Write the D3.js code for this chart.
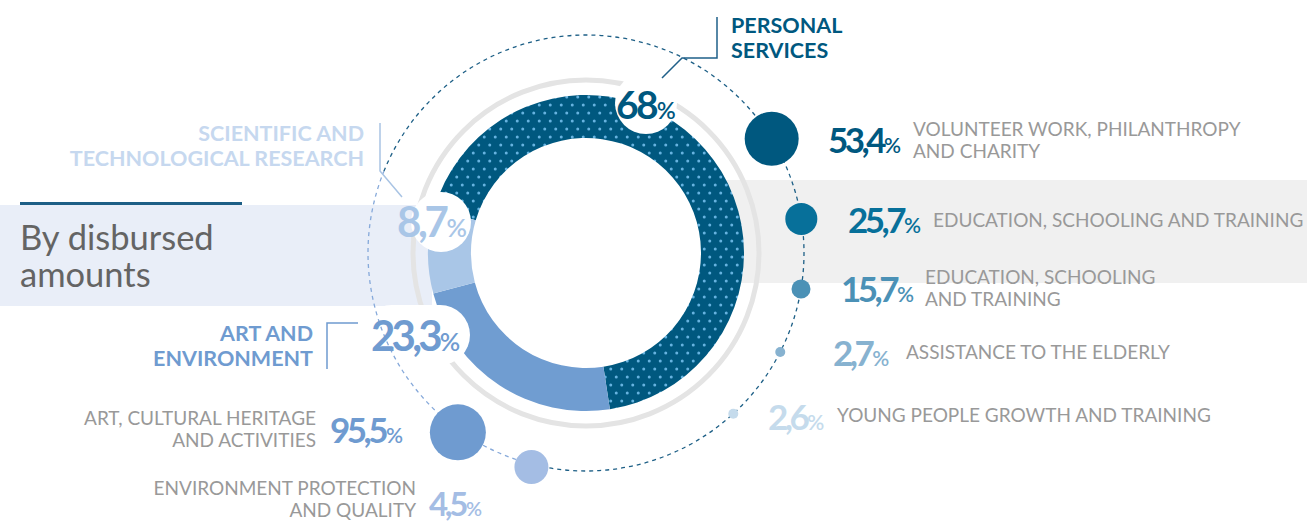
<!DOCTYPE html>
<html>
<head>
<meta charset="utf-8">
<script src="https://cdn.jsdelivr.net/npm/d3@7"></script>
<style>
  html, body { margin: 0; padding: 0; background: #fff; }
  svg { display: block; font-family: Lato, "Open Sans", sans-serif; }
</style>
</head>
<body>
<svg id="chart" width="1307" height="522"></svg>
<script>
// ---- data ----------------------------------------------------------------
const groupNames = ["PERSONAL SERVICES", "ART AND ENVIRONMENT", "SCIENTIFIC AND TECHNOLOGICAL RESEARCH"];
const groupShares = [68, 23.3, 8.7];

const personalSectors = [
  "VOLUNTEER WORK, PHILANTHROPY|AND CHARITY",
  "EDUCATION, SCHOOLING AND TRAINING",
  "EDUCATION, SCHOOLING|AND TRAINING",
  "ASSISTANCE TO THE ELDERLY",
  "YOUNG PEOPLE GROWTH AND TRAINING"
];
const personalShares = [53.4, 25.7, 15.7, 2.7, 2.6];

const artSectors = [
  "ART, CULTURAL HERITAGE|AND ACTIVITIES",
  "ENVIRONMENT PROTECTION|AND QUALITY"
];
const artShares = [95.5, 4.5];

const title = ["By disbursed", "amounts"];

// ---- styles / layout -----------------------------------------------------
const W = 1307, H = 522;
const cx = 586, cy = 253;
const rInner = 115, rOuter = 158, rRing = 173, rOrbit = 218;
const deg = Math.PI / 180;

const groupColors = ["#00587f", "#709dd1", "#a9c6e7"];
const groupLabelColors = ["#00587f", "#6f9bd0", "#c6d8ef"];
const personalColors = ["#00587f", "#07709a", "#4b91b6", "#87b2d0", "#c5dbec"];
const artColors = ["#6f9bd0", "#a4bde4"];
const grayText = "#999999";

const fmt = d3.formatLocale({ decimal: ",", thousands: ".", grouping: [3], currency: ["", "€"] }).format(".1~f");

const svg = d3.select("#chart");
const defs = svg.append("defs");

// dotted fill for the main segment
const pat = defs.append("pattern")
  .attr("id", "dots").attr("patternUnits", "userSpaceOnUse")
  .attr("width", 11).attr("height", 16);
pat.append("rect").attr("width", 11).attr("height", 16).attr("fill", groupColors[0]);
[[2.75, 4], [8.25, 12]].forEach(([x, y]) =>
  pat.append("circle").attr("cx", x).attr("cy", y).attr("r", 1.5).attr("fill", "#66b3e0"));

// ---- background bands ----------------------------------------------------
svg.append("rect").attr("x", 722).attr("y", 180).attr("width", W - 722).attr("height", 103).attr("fill", "#f0f0f0");
svg.append("rect").attr("x", 0).attr("y", 205).attr("width", 432).attr("height", 101).attr("fill", "#e9eef8");
svg.append("line").attr("x1", 20).attr("x2", 242).attr("y1", 203.5).attr("y2", 203.5)
  .attr("stroke", "#1d5f86").attr("stroke-width", 3);

// title
const t = svg.append("text").attr("x", 20).attr("font-size", 34.5).attr("fill", "#646464");
title.forEach((line, i) => t.append("tspan").attr("x", 20).attr("y", 250 + i * 37).text(line));

// ---- gray ring -----------------------------------------------------------
svg.append("circle").attr("cx", cx).attr("cy", cy).attr("r", rRing)
  .attr("fill", "none").attr("stroke", "#e4e4e4").attr("stroke-width", 5);

// ---- donut ---------------------------------------------------------------
const start = -73.5 * deg;
const pie = d3.pie().sort(null).startAngle(start).endAngle(start + 2 * Math.PI);
const arcGen = d3.arc().innerRadius(rInner).outerRadius(rOuter);
const g = svg.append("g").attr("transform", `translate(${cx},${cy})`);
const slices = pie(groupShares);
g.selectAll("path.slice").data(slices).join("path")
  .attr("class", "slice")
  .attr("d", arcGen)
  .attr("fill", (d, i) => i === 0 ? "url(#dots)" : groupColors[i]);

// white pads under the segment percentages
const pads = svg.append("g").attr("fill", "#fff");
pads.append("circle").attr("cx", 646).attr("cy", 103).attr("r", 31);
pads.append("circle").attr("cx", 441).attr("cy", 222).attr("r", 30);
pads.append("rect").attr("x", 362).attr("y", 305).attr("width", 108).attr("height", 60).attr("rx", 30);

// ---- dashed orbit --------------------------------------------------------
function orbitArc(a0, a1) {
  const p = d3.path();
  p.arc(cx, cy, rOrbit, (a0 - 90) * deg, (a1 - 90) * deg, false);
  return p.toString();
}
const personalAngles = [58.4, 81, 99.5, 117, 137.5];
const artAngles = [216, 194.5];
svg.append("path").attr("d", orbitArc(-68, 194.5))
  .attr("fill", "none").attr("stroke", "#1d5f86").attr("stroke-width", 1.3).attr("stroke-dasharray", "4 4");
svg.append("path").attr("d", orbitArc(194.5, 292))
  .attr("fill", "none").attr("stroke", "#86a9da").attr("stroke-width", 1.3).attr("stroke-dasharray", "4 4");

// ---- bubbles -------------------------------------------------------------
const personalR = [27, 16, 9.5, 5, 5];
const artR = [28, 17];
const onOrbit = a => [cx + rOrbit * Math.sin(a * deg), cy - rOrbit * Math.cos(a * deg)];

svg.append("g").selectAll("circle").data(personalShares).join("circle")
  .attr("cx", (d, i) => onOrbit(personalAngles[i])[0])
  .attr("cy", (d, i) => onOrbit(personalAngles[i])[1])
  .attr("r", (d, i) => personalR[i])
  .attr("fill", (d, i) => personalColors[i]);
svg.append("g").selectAll("circle").data(artShares).join("circle")
  .attr("cx", (d, i) => onOrbit(artAngles[i])[0])
  .attr("cy", (d, i) => onOrbit(artAngles[i])[1] + 3)
  .attr("r", (d, i) => artR[i])
  .attr("fill", (d, i) => artColors[i]);

// ---- leader lines --------------------------------------------------------
const leader = (pts, color) => svg.append("path").attr("d", d3.line()(pts))
  .attr("fill", "none").attr("stroke", color).attr("stroke-width", 1.5);
leader([[717, 17], [717, 58], [682, 58], [662, 78]], "#1f6089");
leader([[380, 123], [380, 171], [402, 197]], "#a9c4e4");
leader([[358, 323], [327, 323], [327, 369]], "#6f9bd0");

// ---- text helpers --------------------------------------------------------
function pct(x, y, value, size, color, ls) {
  const el = svg.append("text").attr("x", x).attr("y", y)
    .attr("fill", color).attr("font-weight", 700);
  el.append("tspan").attr("font-size", size).attr("letter-spacing", (ls == null ? -0.1 : ls) * size).text(fmt(value));
  el.append("tspan").attr("font-size", size * 0.6).attr("font-weight", 600).attr("dx", 1).text("%");
  return el;
}
function lines(x, y, str, opts) {
  const el = svg.append("text").attr("x", x).attr("y", y)
    .attr("fill", opts.color).attr("font-size", opts.size)
    .attr("font-weight", opts.weight || 400)
    .attr("text-anchor", opts.anchor || "start");
  str.split("|").forEach((s, i) => el.append("tspan").attr("x", x).attr("y", y + i * opts.lh).text(s));
  return el;
}

// group labels
const groupTitle = [
  { x: 731, y: 33, anchor: "start", lines: ["PERSONAL", "SERVICES"] },
  { x: 313, y: 341, anchor: "end", lines: ["ART AND", "ENVIRONMENT"] },
  { x: 364, y: 141, anchor: "end", lines: ["SCIENTIFIC AND", "TECHNOLOGICAL RESEARCH"] }
];
groupTitle.forEach((gt, i) =>
  lines(gt.x, gt.y, gt.lines.join("|"), { color: groupLabelColors[i], size: 21.5, weight: 700, lh: 25, anchor: gt.anchor }));

// segment percentages
const groupPct = [[616, 119, 39, -0.07], [371, 351, 42, -0.09], [397, 237, 42, -0.08]];
groupShares.forEach((v, i) =>
  pct(groupPct[i][0], groupPct[i][1], v, groupPct[i][2], i === 2 ? "#a9c6e7" : groupLabelColors[i], groupPct[i][3]));

// personal services breakdown
const personalPctPos = [[828, 153], [848, 233], [841, 302], [833, 366], [768, 430]];
const personalTxtPos = [[913, 136], [933, 227], [925, 284], [906, 359], [837, 422]];
personalShares.forEach((v, i) => {
  pct(personalPctPos[i][0], personalPctPos[i][1], v, 35, personalColors[i]);
  lines(personalTxtPos[i][0], personalTxtPos[i][1], personalSectors[i], { color: grayText, size: 19, lh: 22 });
});

// art and environment breakdown
const artPctPos = [[330, 443, 35], [429, 516, 33]];
const artTxtPos = [[316, 425], [416, 495]];
artShares.forEach((v, i) => {
  pct(artPctPos[i][0], artPctPos[i][1], v, artPctPos[i][2], artColors[i]);
  lines(artTxtPos[i][0], artTxtPos[i][1], artSectors[i], { color: grayText, size: 19, lh: 22, anchor: "end" });
});
</script>
</body>
</html>
